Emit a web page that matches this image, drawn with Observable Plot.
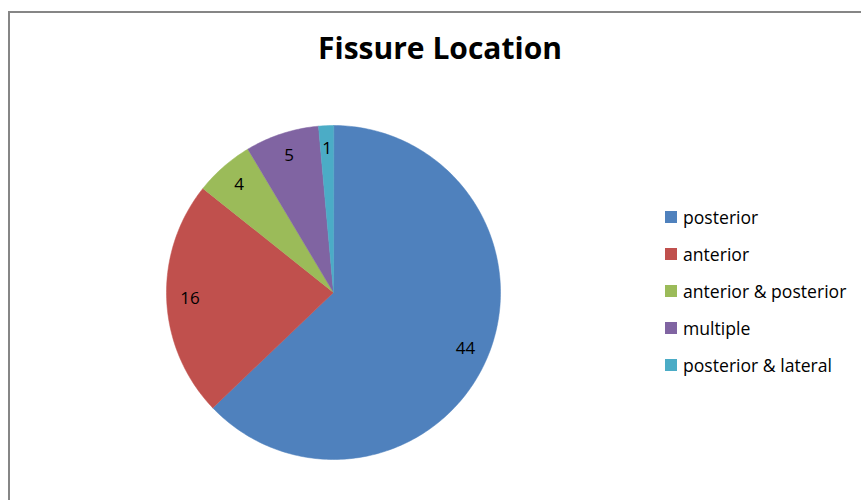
<!DOCTYPE html>
<html>
<head>
<meta charset="utf-8">
<script src="https://cdn.jsdelivr.net/npm/d3@7"></script>
<script src="https://cdn.jsdelivr.net/npm/@observablehq/plot@0.6"></script>
<style>
  html, body { margin: 0; padding: 0; background: #fff; }
  #wrap { position: relative; width: 861px; height: 500px; overflow: hidden; font-family: "Open Sans", Lato, sans-serif; }
  #frame { position: absolute; left: 8px; top: 11px; width: 900px; height: 600px; border-top: 2px solid #868686; border-left: 2px solid #868686; }
  #title { position: absolute; left: 0; width: 880px; top: 30px; text-align: center; font-weight: bold; font-size: 30px; line-height: 36px; color: #000; }
  #chart { position: absolute; left: 0; top: 0; }
  #legend { position: absolute; left: 665px; top: 198px; font-size: 17.6px; color: #000; }
  .row { display: flex; align-items: center; height: 37.2px; }
  .sw { width: 12px; height: 12px; margin-right: 6px; }
</style>
</head>
<body>
<div id="wrap">
  <div id="frame"></div>
  <div id="title">Fissure Location</div>
  <div id="chart"></div>
  <div id="legend"></div>
</div>
<script>
const categories = ["posterior", "anterior", "anterior & posterior", "multiple", "posterior & lateral"];
const values = [44, 16, 4, 5, 1];
const colors = ["#4F81BD", "#C0504D", "#9BBB59", "#8064A2", "#4BACC6"];

const data = categories.map((name, i) => ({name, value: values[i]}));
const arcs = d3.pie().sort(null).value(d => d.value).startAngle(0).endAngle(2 * Math.PI)(data);

function slicePolygon(a0, a1) {
  const ring = [[0, 0]];
  const n = Math.max(4, Math.ceil((a1 - a0) / (Math.PI / 180)));
  for (let k = 0; k <= n; k++) {
    const a = a0 + (a1 - a0) * k / n;
    ring.push([Math.sin(a), -Math.cos(a)]);
  }
  ring.push([0, 0]);
  return ring;
}

const features = arcs.map(a => ({
  type: "Feature",
  properties: {name: a.data.name, value: a.data.value},
  geometry: {type: "Polygon", coordinates: [slicePolygon(a.startAngle, a.endAngle)]}
}));

const labels = arcs.map(a => {
  const m = (a.startAngle + a.endAngle) / 2;
  const r = 0.86;
  return {x: r * Math.sin(m), y: -r * Math.cos(m), text: String(a.data.value)};
});

const cx = 333, cy = 292, R = 167;
const W = 861, H = 500;

const plot = Plot.plot({
  width: W,
  height: H,
  marginLeft: cx - R,
  marginTop: cy - R,
  marginRight: W - (cx + R),
  marginBottom: H - (cy + R),
  projection: {
    type: "identity",
    domain: {type: "Polygon", coordinates: [[[-1, -1], [1, -1], [1, 1], [-1, 1], [-1, -1]]]}
  },
  color: {domain: categories, range: colors},
  style: {background: "transparent", fontFamily: "'Open Sans', Lato, sans-serif"},
  marks: [
    Plot.geo(features, {fill: d => d.properties.name, stroke: d => d.properties.name, strokeWidth: 0.5}),
    Plot.text(labels, {x: "x", y: "y", text: "text", fontSize: 17, fill: "#000"})
  ]
});
document.getElementById("chart").appendChild(plot);

const legend = document.getElementById("legend");
categories.forEach((c, i) => {
  const row = document.createElement("div");
  row.className = "row";
  const sw = document.createElement("div");
  sw.className = "sw";
  sw.style.background = colors[i];
  const t = document.createElement("span");
  t.textContent = c;
  row.appendChild(sw);
  row.appendChild(t);
  legend.appendChild(row);
});
</script>
</body>
</html>
